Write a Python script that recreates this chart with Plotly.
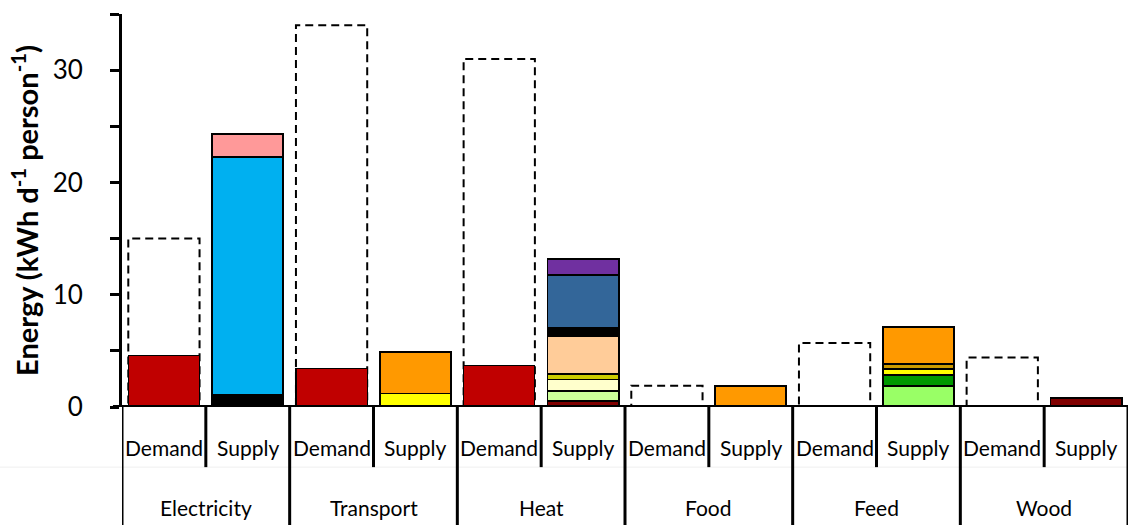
import plotly.graph_objects as go

# Categories
groups = ["Electricity", "Transport", "Heat", "Food", "Feed", "Wood"]
sides = ["Demand", "Supply"]

# Demand: total requirement (dashed outline) and the part already met (red)
demand_total = [15.0, 34.0, 31.0, 1.9, 5.7, 4.4]
demand_met = [4.6, 3.4, 3.7, 0.0, 0.0, 0.0]

# Supply stacks, bottom to top
elec_supply = [1.1, 21.2, 2.0]
transport_supply = [1.2, 3.7]
heat_supply = [0.5, 0.95, 1.0, 0.5, 3.4, 0.7, 4.7, 1.4]
food_supply = [1.9]
feed_supply = [1.9, 0.95, 0.5, 0.5, 3.3]
wood_supply = [0.8]

# Segment colours, bottom to top
elec_colors = ["#000000", "#00B0F0", "#FF9999"]
transport_colors = ["#FFFF00", "#FF9900"]
heat_colors = ["#800000", "#CCFF99", "#FFFFCC", "#CCCC00", "#FFCC99",
               "#000000", "#336699", "#7030A0"]
food_colors = ["#FF9900"]
feed_colors = ["#99FF66", "#009900", "#FFFF00", "#CC9900", "#FF9900"]
wood_colors = ["#800000"]

supply_values = [elec_supply, transport_supply, heat_supply,
                 food_supply, feed_supply, wood_supply]
supply_colors = [elec_colors, transport_colors, heat_colors,
                 food_colors, feed_colors, wood_colors]

# Y-axis ticks
y_major = [0, 10, 20, 30]

cats = [f"{g} {s}" for g in groups for s in sides]
FONT = "Lato"
BAR_W = 0.85

fig = go.Figure()

# Met demand (red)
fig.add_trace(go.Bar(
    x=[f"{g} Demand" for g in groups], y=demand_met,
    marker=dict(color="#C00000", line=dict(color="#000000", width=1.2)),
    width=BAR_W, showlegend=False,
))

# Supply stacks
for g, vals, cols in zip(groups, supply_values, supply_colors):
    for v, c in zip(vals, cols):
        fig.add_trace(go.Bar(
            x=[f"{g} Supply"], y=[v],
            marker=dict(color=c, line=dict(color="#000000", width=1.8)),
            width=BAR_W, showlegend=False,
        ))

shapes = []
# Dashed outline of total demand
for i, tot in enumerate(demand_total):
    xi = cats.index(f"{groups[i]} Demand")
    shapes.append(dict(
        type="rect", xref="x", yref="y", layer="below",
        x0=xi - BAR_W / 2, x1=xi + BAR_W / 2, y0=0, y1=tot,
        line=dict(color="#000000", width=2, dash="8px,5px"),
        fillcolor="rgba(0,0,0,0)",
    ))

# Baseline
shapes.append(dict(type="line", xref="paper", yref="y",
                   x0=-0.009, x1=1.0, y0=0, y1=0,
                   line=dict(color="#000000", width=4)))

# Faint row separator under the Demand/Supply labels
shapes.append(dict(type="line", xref="paper", yref="paper",
                   x0=-0.13, x1=1.0, y0=-0.153, y1=-0.153,
                   line=dict(color="#EFEFEF", width=1)))

# Group dividers (long) and Demand/Supply dividers (short)
for k in range(len(groups) + 1):
    xb = 2 * k - 0.5
    shapes.append(dict(type="line", xref="x", yref="paper",
                       x0=xb, x1=xb, y0=0, y1=-0.32,
                       line=dict(color="#000000", width=3)))
for k in range(len(groups)):
    xb = 2 * k + 0.5
    shapes.append(dict(type="line", xref="x", yref="paper",
                       x0=xb, x1=xb, y0=0, y1=-0.153,
                       line=dict(color="#000000", width=3)))

annotations = []
for i, c in enumerate(cats):
    side = c.split(" ")[-1]
    annotations.append(dict(
        x=i, xref="x", y=-0.1018, yref="paper", text=side,
        showarrow=False, xanchor="center", yanchor="middle",
        font=dict(family=FONT, size=21, color="#000000"),
    ))
for k, g in enumerate(groups):
    annotations.append(dict(
        x=2 * k + 0.5, xref="x", y=-0.2545, yref="paper", text=g,
        showarrow=False, xanchor="center", yanchor="middle",
        font=dict(family=FONT, size=21, color="#000000"),
    ))

# Y-axis title
annotations.append(dict(
    x=-0.097, xref="paper", y=0.50, yref="paper",
    text="<b>Energy (kWh d<sup>-1</sup> person<sup>-1</sup>)</b>",
    textangle=-90, showarrow=False, xanchor="center", yanchor="middle",
    font=dict(family=FONT, size=29, color="#000000"),
))

fig.update_layout(
    width=1128, height=525,
    margin=dict(l=122, r=0, t=14, b=118),
    barmode="stack", bargap=0.15,
    plot_bgcolor="white", paper_bgcolor="white",
    shapes=shapes, annotations=annotations,
    showlegend=False,
    xaxis=dict(type="category", categoryorder="array", categoryarray=cats,
               range=[-0.5, 11.5], showticklabels=False, ticks="",
               showgrid=False, zeroline=False, showline=False),
    yaxis=dict(range=[0, 35], tickvals=y_major,
               ticks="outside", ticklen=9, tickwidth=3, tickcolor="#000000",
               minor=dict(dtick=5, tick0=0, ticks="outside", ticklen=9,
                          tickwidth=3, tickcolor="#000000", showgrid=False),
               ticklabelstandoff=22,
               showline=True, linewidth=3, linecolor="#000000",
               showgrid=False, zeroline=False,
               tickfont=dict(family=FONT, size=26, color="#000000")),
)

fig.write_html("out.html")
